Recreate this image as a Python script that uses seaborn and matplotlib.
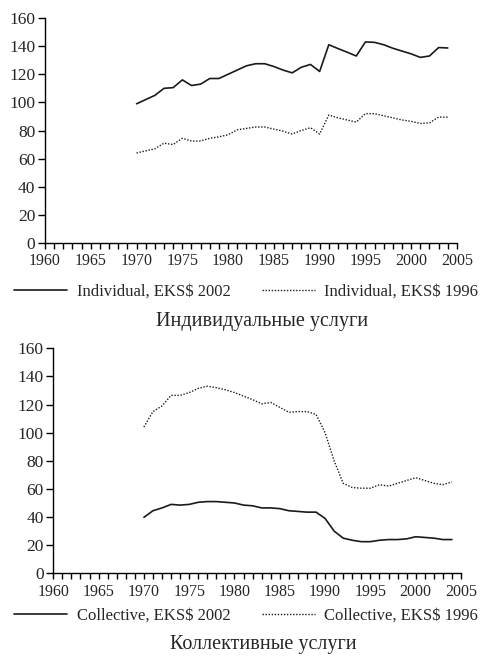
import matplotlib
matplotlib.use("Agg")
import matplotlib.pyplot as plt
import seaborn as sns
import pandas as pd
from matplotlib.ticker import MultipleLocator

years = list(range(1970, 2005))

individual_2002 = [99, 102, 105, 110, 110.5, 116, 112, 113, 117, 117,
                   120, 123, 126, 127.5, 127.5, 125.5, 123, 121, 125, 127,
                   122, 141, 138.3, 135.7, 133, 143, 142.7, 141, 138.5, 136.5,
                   134.5, 132, 133, 139, 138.7]
individual_1996 = [64, 65.5, 67, 71, 70, 74.5, 72.5, 72.5, 74.5, 75.5,
                   77, 80.5, 81.5, 82.5, 82.5, 81, 79.5, 77.5, 80, 82,
                   77.5, 91, 89, 87.5, 86, 92, 92, 90.5, 89, 87.5,
                   86.5, 85, 85.5, 89.5, 89.5]
collective_2002 = [39.8, 44.5, 46.5, 49, 48.5, 49, 50.5, 51, 51, 50.5,
                   50, 48.5, 48, 46.5, 46.5, 46, 44.5, 44, 43.5, 43.5,
                   39, 30, 25, 23.5, 22.5, 22.5, 23.5, 24, 24, 24.5,
                   26, 25.5, 25, 24, 24]
collective_1996 = [104, 115, 119, 126.5, 126.5, 128.5, 131.5, 133, 132, 130.5,
                   128.5, 126, 123.5, 120.5, 121.5, 118, 114.5, 115, 115, 113,
                   100, 80, 64, 61, 60.5, 60.5, 63, 62, 64, 66,
                   68, 66, 64, 63, 65]

labels_top = ["Individual, EKS$ 2002", "Individual, EKS$ 1996"]
labels_bottom = ["Collective, EKS$ 2002", "Collective, EKS$ 1996"]
titles = ["Индивидуальные услуги", "Коллективные услуги"]

sns.set_style("ticks")
plt.rcParams['font.family'] = ['Liberation Serif', 'DejaVu Serif']

fig = plt.figure(figsize=(4.81, 6.58), dpi=100)
ax1 = fig.add_axes([0.0936, 0.6307, 0.950 - 0.0936, 0.9726 - 0.6307])
ax2 = fig.add_axes([0.1108, 0.1287, 0.9584 - 0.1108, 0.4707 - 0.1287])

panels = [
    (ax1, individual_2002, individual_1996, labels_top, 1 - 292 / 658),
    (ax2, collective_2002, collective_1996, labels_bottom, 1 - 616 / 658),
]

for ax, s1, s2, labs, ly in panels:
    df = pd.DataFrame({"year": years, "a": s1, "b": s2})
    sns.lineplot(data=df, x="year", y="a", ax=ax, color="#1a1a1a",
                 linewidth=1.2, label=labs[0])
    sns.lineplot(data=df, x="year", y="b", ax=ax, color="#1a1a1a",
                 linewidth=1.0, linestyle=(0, (1, 1.2)), label=labs[1])
    ax.set_xlim(1960, 2005)
    ax.set_ylim(0, 160)
    ax.xaxis.set_major_locator(MultipleLocator(5))
    ax.xaxis.set_minor_locator(MultipleLocator(1))
    ax.yaxis.set_major_locator(MultipleLocator(20))
    ax.tick_params(axis="x", which="both", direction="out", length=4.5,
                   width=1, color="black", labelsize=11.5, pad=3)
    ax.tick_params(axis="y", direction="out", length=5, width=1,
                   color="black", labelsize=12.5, pad=2)
    for sp in ["top", "right"]:
        ax.spines[sp].set_visible(False)
    for sp in ["left", "bottom"]:
        ax.spines[sp].set_color("black")
        ax.spines[sp].set_linewidth(1.0)
    ax.set_xlabel("")
    ax.set_ylabel("")
    ax.legend(loc="center left", bbox_to_anchor=(14 / 481, ly),
              bbox_transform=fig.transFigure, ncol=2, frameon=False,
              borderpad=0, borderaxespad=0, handlelength=3.2,
              columnspacing=1.9, handletextpad=0.55, fontsize=12)

fig.text(0.545, 1 - 322 / 658, titles[0], ha="center", va="center", fontsize=14.5)
fig.text(0.547, 1 - 645 / 658, titles[1], ha="center", va="center", fontsize=14.5)

fig.savefig("out.png", dpi=100)
